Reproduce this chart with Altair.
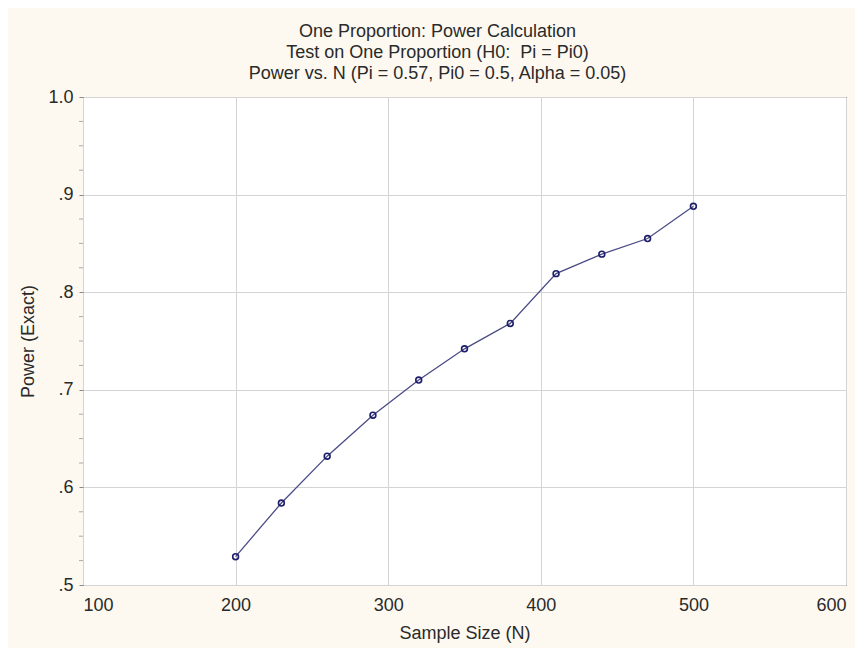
import altair as alt
import pandas as pd

# ---- data ----
sample_size = [200, 230, 260, 290, 320, 350, 380, 410, 440, 470, 500]
power = [0.529, 0.584, 0.632, 0.674, 0.710, 0.742, 0.768, 0.819, 0.839, 0.855, 0.888]

x_ticks = [100, 200, 300, 400, 500, 600]
y_ticks = [0.5, 0.6, 0.7, 0.8, 0.9, 1.0]
y_minor = [0.525, 0.55, 0.575, 0.625, 0.65, 0.675, 0.725, 0.75, 0.775,
           0.825, 0.85, 0.875, 0.925, 0.95, 0.975]

title_lines = [
    "One Proportion: Power Calculation",
    "Test on One Proportion (H0:\u00a0 Pi = Pi0)",
    "Power vs. N (Pi = 0.57, Pi0 = 0.5, Alpha = 0.05)",
]
x_title = "Sample Size (N)"
y_title = "Power (Exact)"

df = pd.DataFrame({"N": sample_size, "Power": power})
minor_df = pd.DataFrame({"m": y_minor})

FONT = "Liberation Sans"
LINE_COLOR = "#4b4b86"
POINT_COLOR = "#1e1e6a"
TEXT_COLOR = "#2a2a2a"

x_scale = alt.Scale(domain=[100, 600], nice=False, zero=False)
y_scale = alt.Scale(domain=[0.5, 1.0], nice=False, zero=False)

x_enc = alt.X(
    "N:Q", scale=x_scale,
    axis=alt.Axis(title=x_title, values=x_ticks, format="d", grid=True,
                  gridColor="#d4d4d4", domain=False, tickSize=0,
                  labelPadding=11, titlePadding=10),
)
y_enc = alt.Y(
    "Power:Q", scale=y_scale,
    axis=alt.Axis(title=y_title, values=y_ticks, grid=True, gridColor="#d4d4d4",
                  domain=False, tickSize=4, tickColor="#888888",
                  labelExpr="datum.value == 1 ? '1.0' : replace(format(datum.value, '.1f'), '0.', '.')",
                  labelPadding=6, titlePadding=10),
)

line = alt.Chart(df).mark_line(color=LINE_COLOR, strokeWidth=1.3).encode(x=x_enc, y=y_enc)
points = alt.Chart(df).mark_point(
    shape="circle", filled=False, color=POINT_COLOR, size=34, strokeWidth=1.6, opacity=1
).encode(x="N:Q", y="Power:Q")

minor = alt.Chart(minor_df).mark_rule(color="#aaaaaa", strokeWidth=1).encode(
    y=alt.Y("m:Q", scale=y_scale),
    x=alt.value(-4), x2=alt.value(0),
)

chart = (
    alt.layer(line, points, minor)
    .properties(
        width=763, height=488,
        autosize=alt.AutoSizeParams(type="none"),
        padding={"left": 75, "top": 89, "right": 9, "bottom": 63},
        background="#fdf9f0",
        title=alt.TitleParams(
            text=title_lines, font=FONT, fontSize=18, fontWeight="normal",
            color=TEXT_COLOR, anchor="middle", frame="group", dx=-27,
            lineHeight=21, offset=5,
        ),
    )
    .configure_view(fill="white", stroke="black", strokeWidth=1)
    .configure_axis(
        labelFont=FONT, titleFont=FONT, labelFontSize=18, titleFontSize=18,
        labelColor=TEXT_COLOR, titleColor=TEXT_COLOR, titleFontWeight="normal",
    )
)

chart.save("out.html", embed_options={"renderer": "svg", "actions": False})
